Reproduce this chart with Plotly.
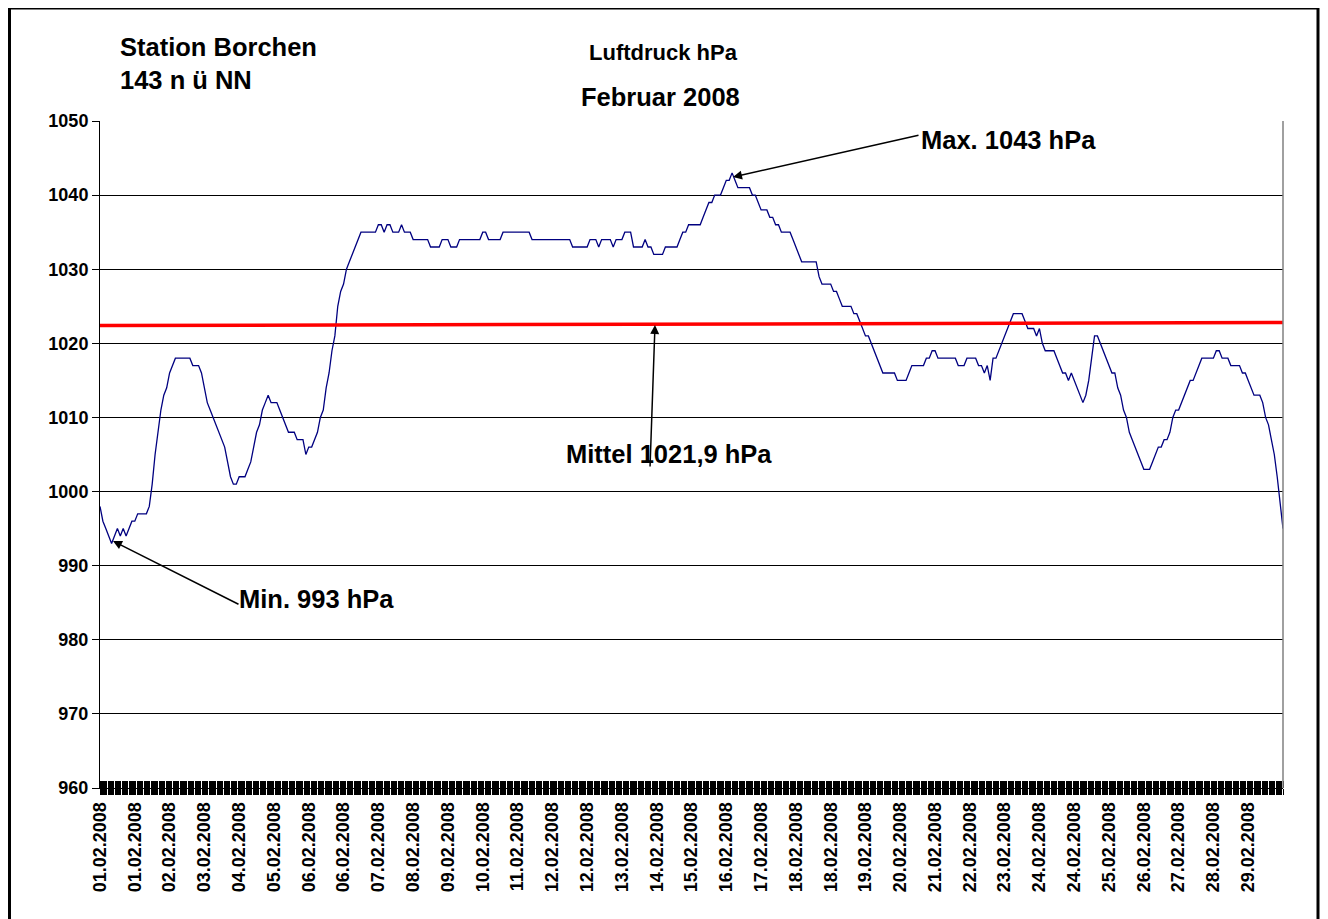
import plotly.graph_objects as go

# Luftdruck (hPa), Februar 2008, Station Borchen
pressure = [
    998, 996, 995, 994, 993, 994, 995, 994, 995, 994,
    995, 996, 996, 997, 997, 997, 997, 998, 1001, 1005,
    1008, 1011, 1013, 1014, 1016, 1017, 1018, 1018, 1018, 1018,
    1018, 1018, 1017, 1017, 1017, 1016, 1014, 1012, 1011, 1010,
    1009, 1008, 1007, 1006, 1004, 1002, 1001, 1001, 1002, 1002,
    1002, 1003, 1004, 1006, 1008, 1009, 1011, 1012, 1013, 1012,
    1012, 1012, 1011, 1010, 1009, 1008, 1008, 1008, 1007, 1007,
    1007, 1005, 1006, 1006, 1007, 1008, 1010, 1011, 1014, 1016,
    1019, 1021, 1025, 1027, 1028, 1030, 1031, 1032, 1033, 1034,
    1035, 1035, 1035, 1035, 1035, 1035, 1036, 1036, 1035, 1036,
    1036, 1035, 1035, 1035, 1036, 1035, 1035, 1035, 1034, 1034,
    1034, 1034, 1034, 1034, 1033, 1033, 1033, 1033, 1034, 1034,
    1034, 1033, 1033, 1033, 1034, 1034, 1034, 1034, 1034, 1034,
    1034, 1034, 1035, 1035, 1034, 1034, 1034, 1034, 1034, 1035,
    1035, 1035, 1035, 1035, 1035, 1035, 1035, 1035, 1035, 1034,
    1034, 1034, 1034, 1034, 1034, 1034, 1034, 1034, 1034, 1034,
    1034, 1034, 1034, 1033, 1033, 1033, 1033, 1033, 1033, 1034,
    1034, 1034, 1033, 1034, 1034, 1034, 1034, 1033, 1034, 1034,
    1034, 1035, 1035, 1035, 1033, 1033, 1033, 1033, 1034, 1033,
    1033, 1032, 1032, 1032, 1032, 1033, 1033, 1033, 1033, 1033,
    1034, 1035, 1035, 1036, 1036, 1036, 1036, 1036, 1037, 1038,
    1039, 1039, 1040, 1040, 1040, 1041, 1042, 1042, 1043, 1042,
    1041, 1041, 1041, 1041, 1041, 1040, 1040, 1039, 1038, 1038,
    1038, 1037, 1037, 1036, 1036, 1035, 1035, 1035, 1035, 1034,
    1033, 1032, 1031, 1031, 1031, 1031, 1031, 1031, 1029, 1028,
    1028, 1028, 1028, 1027, 1027, 1026, 1025, 1025, 1025, 1025,
    1024, 1024, 1023, 1022, 1021, 1021, 1020, 1019, 1018, 1017,
    1016, 1016, 1016, 1016, 1016, 1015, 1015, 1015, 1015, 1016,
    1017, 1017, 1017, 1017, 1017, 1018, 1018, 1019, 1019, 1018,
    1018, 1018, 1018, 1018, 1018, 1018, 1017, 1017, 1017, 1018,
    1018, 1018, 1018, 1017, 1017, 1016, 1017, 1015, 1018, 1018,
    1019, 1020, 1021, 1022, 1023, 1024, 1024, 1024, 1024, 1023,
    1022, 1022, 1022, 1021, 1022, 1020, 1019, 1019, 1019, 1019,
    1018, 1017, 1016, 1016, 1015, 1016, 1015, 1014, 1013, 1012,
    1013, 1015, 1018, 1021, 1021, 1020, 1019, 1018, 1017, 1016,
    1016, 1014, 1013, 1011, 1010, 1008, 1007, 1006, 1005, 1004,
    1003, 1003, 1003, 1004, 1005, 1006, 1006, 1007, 1007, 1008,
    1010, 1011, 1011, 1012, 1013, 1014, 1015, 1015, 1016, 1017,
    1018, 1018, 1018, 1018, 1018, 1019, 1019, 1018, 1018, 1018,
    1017, 1017, 1017, 1017, 1016, 1016, 1015, 1014, 1013, 1013,
    1013, 1012, 1010, 1009, 1007, 1005, 1002, 998, 995,
]

date_labels = [
    "01.02.2008", "01.02.2008", "02.02.2008", "03.02.2008", "04.02.2008",
    "05.02.2008", "06.02.2008", "06.02.2008", "07.02.2008", "08.02.2008",
    "09.02.2008", "10.02.2008", "11.02.2008", "12.02.2008", "12.02.2008",
    "13.02.2008", "14.02.2008", "15.02.2008", "16.02.2008", "17.02.2008",
    "18.02.2008", "18.02.2008", "19.02.2008", "20.02.2008", "21.02.2008",
    "22.02.2008", "23.02.2008", "24.02.2008", "24.02.2008", "25.02.2008",
    "26.02.2008", "27.02.2008", "28.02.2008", "29.02.2008",
]
label_every = 12

mean_line = [1022.4, 1022.8]

y_ticks = [960, 970, 980, 990, 1000, 1010, 1020, 1030, 1040, 1050]

n = len(pressure)
x_idx = list(range(n))
x_end = n - 1

FONT = "Liberation Sans, Arial, sans-serif"

# page has an 8px body margin -> figure coords = page coords - 8
OFF = 8
W, H = 1328 - OFF, 919 - OFF
PL, PR, PT, PB = 100, 1283, 121, 788  # plot area in page pixels

fig = go.Figure()
fig.add_trace(go.Scatter(
    x=x_idx, y=pressure, mode="lines",
    line=dict(color="#000080", width=1.3),
    showlegend=False, hoverinfo="skip",
))
fig.add_trace(go.Scatter(
    x=[0, x_end], y=mean_line, mode="lines",
    line=dict(color="#FF0000", width=3.5),
    showlegend=False, hoverinfo="skip",
))
fig.add_trace(go.Scatter(
    x=[0, x_end], y=[960, 960], mode="lines", xaxis="x2",
    line=dict(width=0), showlegend=False, hoverinfo="skip",
))

fig.update_layout(
    width=W, height=H,
    margin=dict(l=PL - OFF, r=W - (PR - OFF), t=PT - OFF, b=H - (PB - OFF), pad=0),
    paper_bgcolor="white", plot_bgcolor="white",
    font=dict(family=FONT, color="black"),
    xaxis=dict(
        range=[0, x_end], tickmode="array",
        tickvals=[i * label_every for i in range(len(date_labels))],
        ticktext=date_labels, tickangle=-90,
        tickfont=dict(family=FONT, size=18, color="black", weight="bold"),
        showgrid=False, zeroline=False,
        showline=True, linecolor="black", linewidth=1,
        ticks="outside", ticklen=6, tickcolor="black",
        minor=dict(tickmode="linear", tick0=0, dtick=0.4, ticks="inside",
                   ticklen=7, tickcolor="black", tickwidth=1, showgrid=False),
    ),
    xaxis2=dict(
        range=[0, x_end], overlaying="x", anchor="y", side="bottom",
        showticklabels=False, showgrid=False, zeroline=False,
        tickmode="linear", tick0=0, dtick=0.4, ticks="outside",
        ticklen=6, tickcolor="black", tickwidth=1,
    ),
    yaxis=dict(
        range=[960, 1050], tickmode="array", tickvals=y_ticks,
        tickfont=dict(family=FONT, size=18, color="black", weight="bold"),
        showgrid=True, gridcolor="black", gridwidth=1,
        zeroline=False, showline=True, linecolor="black", linewidth=1,
        ticks="outside", ticklen=7, tickcolor="black",
    ),
)

def px_to_paper(px, py):
    return (px - PL) / (PR - PL), (PB - py) / (PB - PT)

shapes = []
shapes.append(dict(type="line", xref="paper", yref="paper", x0=1, x1=1, y0=0, y1=1,
                   line=dict(color="#808080", width=1.5)))
bx0, by0 = px_to_paper(9.5, 921)
bx1, by1 = px_to_paper(1318, 8)
shapes.append(dict(type="rect", xref="paper", yref="paper", x0=bx0, x1=bx1, y0=by0, y1=by1,
                   line=dict(color="black", width=3), fillcolor="rgba(0,0,0,0)", layer="above"))
fig.update_layout(shapes=shapes)

ann = []
def text_ann(txt, px, py, size, xanchor="left"):
    x, y = px_to_paper(px, py)
    ann.append(dict(text=txt, x=x, y=y, xref="paper", yref="paper", showarrow=False,
                    xanchor=xanchor, yanchor="middle",
                    font=dict(family=FONT, size=size, color="black", weight="bold")))

text_ann("Station Borchen", 118, 47, 25.5)
text_ann("143 n ü NN", 118, 80, 25.5)
text_ann("Luftdruck hPa", 663, 52, 22, xanchor="center")
text_ann("Februar 2008", 660, 97, 25.5, xanchor="center")
text_ann("Max. 1043 hPa", 919, 140, 25.5)
text_ann("Mittel 1021,9 hPa", 564, 454, 25.5)
text_ann("Min. 993 hPa", 237, 599, 25.5)

def px_to_data(px, py):
    return (px - PL) / (PR - PL) * x_end, 1050 - (py - PT) / (PB - PT) * 90

def arrow(head_px, tail_px):
    hx, hy = px_to_data(*head_px)
    tx, ty = px_to_data(*tail_px)
    ann.append(dict(text="", x=hx, y=hy, ax=tx, ay=ty, xref="x", yref="y",
                    axref="x", ayref="y", showarrow=True, arrowhead=2,
                    arrowsize=1.2, arrowwidth=1.5, arrowcolor="black", standoff=0))

arrow((733, 177), (920, 135))
arrow((655, 325), (650, 468))
arrow((113, 541), (240, 605))

fig.update_layout(annotations=ann)
fig.write_html("out.html")
